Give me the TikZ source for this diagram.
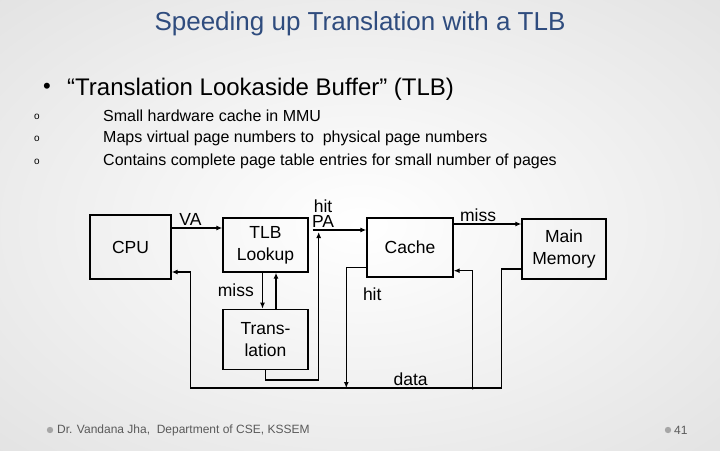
\documentclass[tikz,border=0pt]{standalone}
\usepackage{fontspec}
\setmainfont{Liberation Sans}
\usetikzlibrary{arrows.meta,positioning,calc}
\definecolor{titleblue}{HTML}{2F4C7E}
\definecolor{footgray}{HTML}{5A5A5A}
\definecolor{bgedge}{HTML}{D8D8D8}

\begin{document}
\begin{tikzpicture}[x=1pt,y=-1pt,
  every node/.style={align=center,inner sep=0pt},
  box/.style={draw=black,line width=1.4pt,font=\fontsize{17.5}{22}\selectfont},
  lbl/.style={font=\fontsize{17.5}{14.5}\selectfont},
  link/.style={line width=1.4pt},
  arrow/.style={link,-{Latex[length=6pt,width=5pt]}},
  item/.style={anchor=west,font=\fontsize{16}{19}\selectfont},
  opt/.style={font=\fontsize{10}{12}\selectfont},
  foot/.style={anchor=west,text=footgray,font=\fontsize{12}{14}\selectfont},
  footdot/.style={fill=gray!70}
]
\useasboundingbox (0,0) rectangle (720,450);
\begin{scope}
  \clip (0,0) rectangle (720,450);
  \shade[inner color=white,outer color=bgedge] (-360,-225) rectangle (1080,675);
\end{scope}

% heading and bullets
\node[text=titleblue,font=\fontsize{26}{30}\selectfont] (title) at (360,24) {Speeding up Translation with a TLB};
\node[font=\fontsize{22}{24}\selectfont] (bul) at (47,88) {•};
\node[anchor=west,font=\fontsize{24}{28}\selectfont] (tlbdef) at (67,89) {“Translation Lookaside Buffer” (TLB)};
\node[opt] (o1) at (37,117) {o};
\node[opt] (o2) at (37,139) {o};
\node[opt] (o3) at (37,162) {o};
\node[item] (i1) at (103,116) {Small hardware cache in MMU};
\node[item] (i2) at (103,138) {Maps virtual page numbers to\ \ physical page numbers};
\node[item] (i3) at (103,161) {Contains complete page table entries for small number of pages};

% boxes
\node[box,minimum width=81pt,minimum height=64pt] (cpu) at (130.5,247) {CPU};
\node[box,minimum width=85pt,minimum height=54pt] (tlb) at (265.5,245) {TLB\\Lookup};
\node[box,minimum width=85pt,minimum height=60pt,below=36pt of tlb] (trans) {Trans-\\lation};
\node[box,minimum width=86pt,minimum height=59pt] (cache) at (410,247.5) {Cache};
\node[box,minimum width=84pt,minimum height=60pt] (mem) at (564,249) {Main\\Memory};

\coordinate (vaout) at ([yshift=19pt]cpu.east);
\coordinate (pa) at ([yshift=15pt]tlb.east);
\coordinate (pajoin) at ([xshift=10pt,yshift=-2pt]pa);
\coordinate (missout) at ([yshift=23.5pt]cache.east);
\coordinate (hitout) at ([yshift=10pt]cache.south west);
\coordinate (cachein) at ([yshift=7pt]cache.south east);
\coordinate (memout) at ([yshift=-20pt]mem.west);
\coordinate (cpuin) at ([yshift=-25pt]cpu.east);
\coordinate (busy) at ([yshift=-18pt]trans.south);
\coordinate (tap) at ([xshift=19pt]cache.east |- busy);

% connectors
\draw[arrow] (vaout) -- node[lbl,pos=0.37,above=2pt]{VA} (vaout -| tlb.west);
\draw[arrow] ([xshift=-3pt]tlb.south) -- node[lbl,left=8pt]{miss} ([xshift=-3pt]trans.north);
\draw[arrow] ([xshift=10.5pt]trans.north) -- ([xshift=10.5pt]tlb.south);
\draw[arrow] (trans.south) -- ++(0,10) -| (pajoin);
\draw[arrow,shorten <=4pt] (pa) -- node[lbl,pos=0.25,above=2pt] (palbl) {PA} (pa -| cache.west);
\node[lbl,above=1.5pt of palbl] (hitlbl) {hit};
\draw[arrow] (missout) -- node[lbl,pos=0.36,above=2pt]{miss} (missout -| mem.west);
\draw[arrow] (hitout) -| node[lbl,pos=0.61,right=16pt]{hit} ([xshift=-20pt]cache.west |- busy);
\draw[arrow] (memout) -| ([xshift=-20pt]mem.west |- busy)
  -| node[lbl,pos=0.146,above=2pt]{data} ([xshift=19pt]cpu.east |- cpuin) -- (cpuin);
\draw[arrow] (tap) |- (cachein);
\fill (tap) circle (1.6);

% footer
\fill[footdot] (50,430) circle (3.2);
\node[foot] (author) at (57,430) {Dr. Vandana Jha,\ \ Department of CSE, KSSEM};
\fill[footdot] (668,430) circle (3.2);
\node[foot] (page) at (674,430) {41};
\end{tikzpicture}
\end{document}
